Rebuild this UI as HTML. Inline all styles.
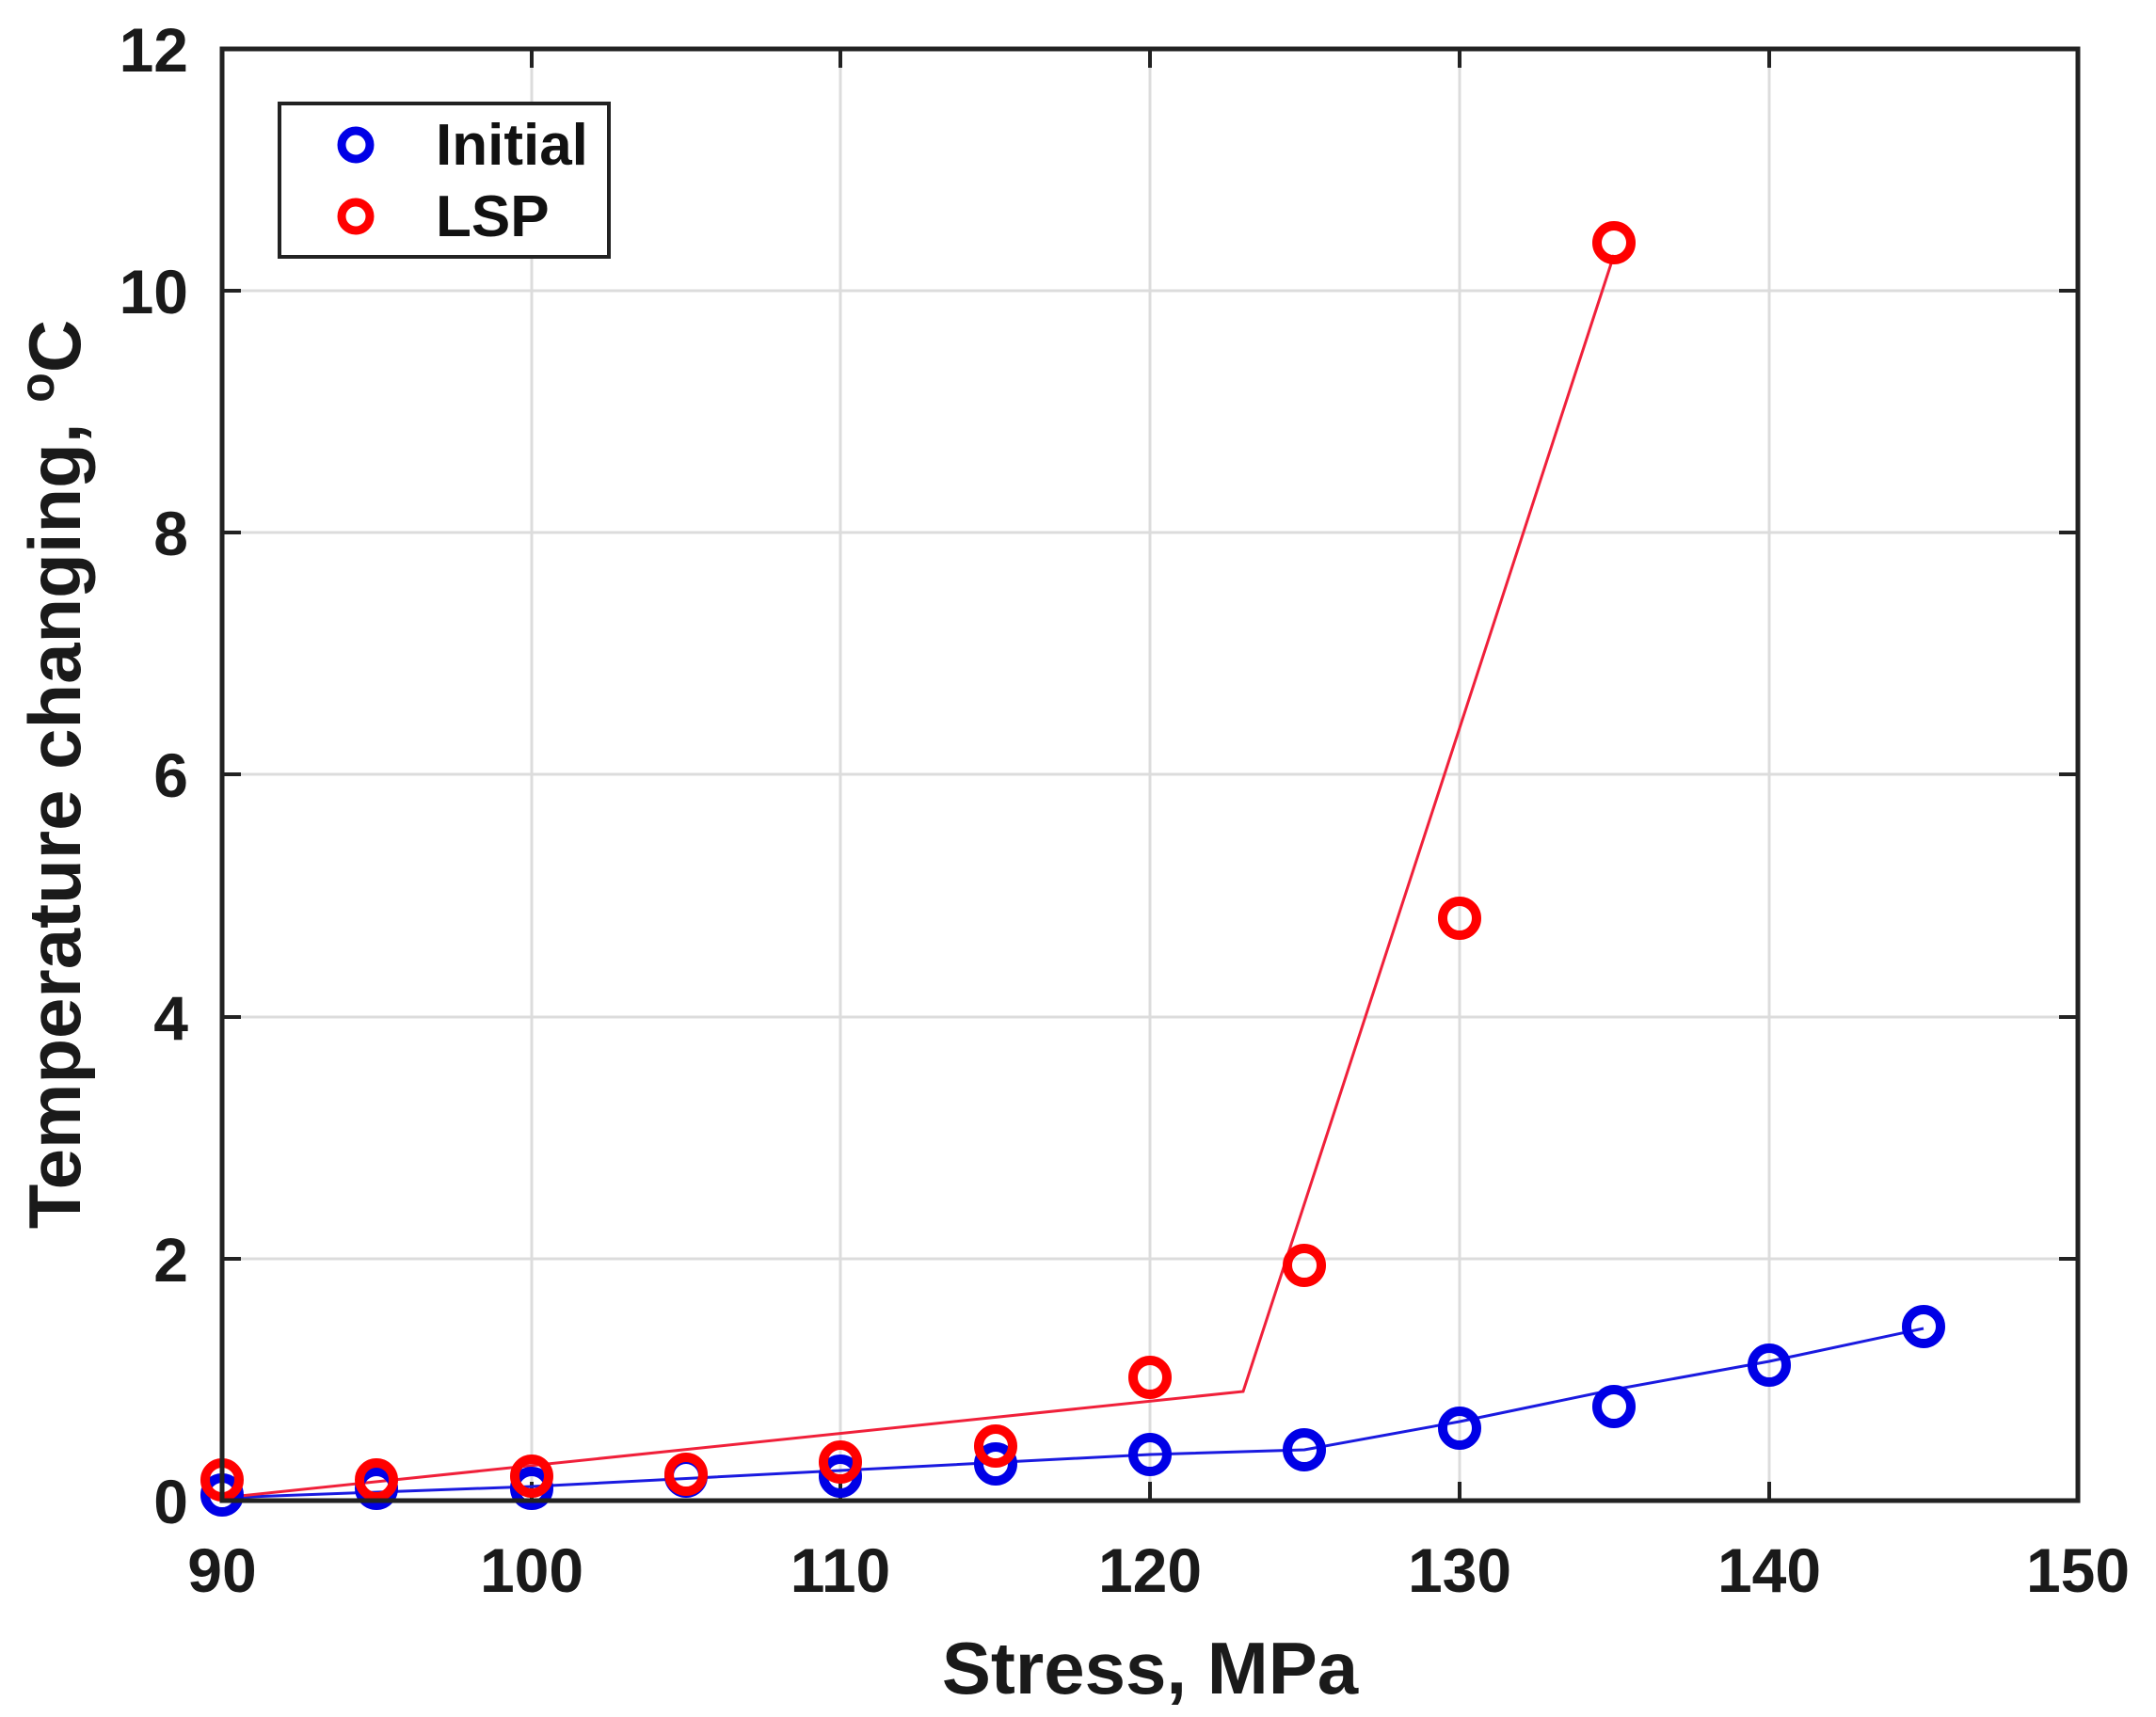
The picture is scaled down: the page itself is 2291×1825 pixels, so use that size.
<!DOCTYPE html>
<html><head><meta charset="utf-8"><style>html,body{margin:0;padding:0;background:#fff}svg{display:block}</style></head>
<body>
<svg width="2291" height="1825" viewBox="0 0 2291 1825" xmlns="http://www.w3.org/2000/svg" font-family="Liberation Sans, Arial, sans-serif" font-weight="bold">
<rect width="2291" height="1825" fill="#fff"/>
<g stroke="#dcdcdc" stroke-width="3">
<line x1="565" y1="52" x2="565" y2="1595"/><line x1="893" y1="52" x2="893" y2="1595"/><line x1="1222" y1="52" x2="1222" y2="1595"/><line x1="1551" y1="52" x2="1551" y2="1595"/><line x1="1880" y1="52" x2="1880" y2="1595"/>
<line x1="236" y1="1338" x2="2208" y2="1338"/><line x1="236" y1="1081" x2="2208" y2="1081"/><line x1="236" y1="823" x2="2208" y2="823"/><line x1="236" y1="566" x2="2208" y2="566"/><line x1="236" y1="309" x2="2208" y2="309"/>
</g>
<g stroke="#222" stroke-width="4">
<line x1="565" y1="1595" x2="565" y2="1575"/><line x1="893" y1="1595" x2="893" y2="1575"/><line x1="1222" y1="1595" x2="1222" y2="1575"/><line x1="1551" y1="1595" x2="1551" y2="1575"/><line x1="1880" y1="1595" x2="1880" y2="1575"/>
<line x1="565" y1="52" x2="565" y2="72"/><line x1="893" y1="52" x2="893" y2="72"/><line x1="1222" y1="52" x2="1222" y2="72"/><line x1="1551" y1="52" x2="1551" y2="72"/><line x1="1880" y1="52" x2="1880" y2="72"/>
<line x1="236" y1="1338" x2="256" y2="1338"/><line x1="236" y1="1081" x2="256" y2="1081"/><line x1="236" y1="823" x2="256" y2="823"/><line x1="236" y1="566" x2="256" y2="566"/><line x1="236" y1="309" x2="256" y2="309"/>
<line x1="2208" y1="1338" x2="2188" y2="1338"/><line x1="2208" y1="1081" x2="2188" y2="1081"/><line x1="2208" y1="823" x2="2188" y2="823"/><line x1="2208" y1="566" x2="2188" y2="566"/><line x1="2208" y1="309" x2="2188" y2="309"/>
</g>
<polyline fill="none" stroke="#1a1ae0" stroke-width="3" points="236,1592 565,1580 893,1563 1222,1546 1386,1541 1551,1511 1715,1477 1880,1447 2044,1412"/>
<polyline fill="none" stroke="#f0203a" stroke-width="3" points="236,1592 1321,1479 1715,271"/>
<g fill="none" stroke="#0000e6" stroke-width="10">
<circle cx="236" cy="1589" r="18"/><circle cx="400" cy="1582" r="18"/><circle cx="565" cy="1582" r="18"/><circle cx="729" cy="1569" r="18"/><circle cx="893" cy="1569" r="18"/><circle cx="1058" cy="1556" r="18"/><circle cx="1222" cy="1546" r="18"/><circle cx="1386" cy="1541" r="18"/><circle cx="1551" cy="1518" r="18"/><circle cx="1715" cy="1495" r="18"/><circle cx="1880" cy="1451" r="18"/><circle cx="2044" cy="1410" r="18"/>
</g>
<g fill="none" stroke="#ff0000" stroke-width="10">
<circle cx="236" cy="1573" r="18"/><circle cx="400" cy="1573" r="18"/><circle cx="565" cy="1569" r="18"/><circle cx="729" cy="1567" r="18"/><circle cx="893" cy="1554" r="18"/><circle cx="1058" cy="1537" r="18"/><circle cx="1222" cy="1464" r="18"/><circle cx="1386" cy="1345" r="18"/><circle cx="1551" cy="976" r="18"/><circle cx="1715" cy="258" r="18"/>
</g>
<rect x="236" y="52" width="1972" height="1543" fill="none" stroke="#222" stroke-width="5"/>
<rect x="297" y="110" width="350" height="163" fill="#fff" stroke="#222" stroke-width="4"/>
<circle cx="378" cy="154" r="15" fill="none" stroke="#0000e6" stroke-width="9"/>
<circle cx="378" cy="230" r="15" fill="none" stroke="#ff0000" stroke-width="9"/>
<text x="463" y="175" font-size="62" fill="#111">Initial</text>
<text x="463" y="251" font-size="62" fill="#111">LSP</text>
<g font-size="66" fill="#1a1a1a" text-anchor="middle">
<text x="236" y="1692">90</text><text x="565" y="1692">100</text><text x="893" y="1692">110</text><text x="1222" y="1692">120</text><text x="1551" y="1692">130</text><text x="1880" y="1692">140</text><text x="2208" y="1692">150</text>
</g>
<g font-size="66" fill="#1a1a1a" text-anchor="end">
<text x="200" y="1619">0</text><text x="200" y="1362">2</text><text x="200" y="1105">4</text><text x="200" y="847">6</text><text x="200" y="590">8</text><text x="200" y="333">10</text><text x="200" y="76">12</text>
</g>
<text x="1222" y="1800" font-size="78" fill="#1a1a1a" text-anchor="middle">Stress, MPa</text>
<text transform="translate(85,823) rotate(-90)" font-size="78" fill="#1a1a1a" text-anchor="middle">Temperature changing, <tspan dy="-28" font-size="52">o</tspan><tspan dy="28">C</tspan></text>
</svg>
</body></html>
